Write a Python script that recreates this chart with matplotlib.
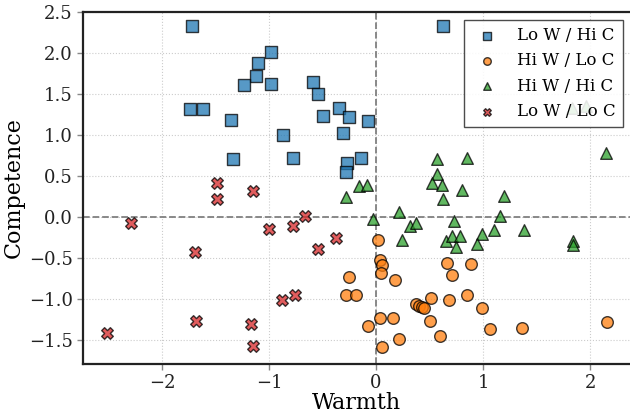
import matplotlib
matplotlib.use("Agg")
import matplotlib.pyplot as plt

plt.rcParams['font.family'] = ['DejaVu Serif']

# Lo W / Hi C (blue squares)
lw_hc_x = [-1.716, -0.978, -1.10, -1.12, -1.234, -0.984, -0.586, -0.539, -1.738, -1.614,
           -1.355, -0.492, -0.349, -0.249, -0.072, -0.305, -0.866, -1.333, -0.773, -0.268,
           -0.137, -0.283, 0.629]
lw_hc_y = [2.33, 2.02, 1.88, 1.72, 1.61, 1.63, 1.65, 1.51, 1.32, 1.32,
           1.19, 1.24, 1.34, 1.22, 1.18, 1.03, 1.00, 0.71, 0.73, 0.67,
           0.72, 0.56, 2.33]

# Hi W / Lo C (orange circles)
hw_lc_x = [-0.249, -0.283, -0.190, -0.075, 0.019, 0.037, 0.056, 0.047, 0.178, 0.66,
           0.89, 0.71, 0.854, 0.511, 0.679, 0.371, 0.402, 0.427, 0.445, 0.994,
           0.040, 0.162, 0.505, 1.062, 1.361, 2.162, 0.218, 0.595, 0.059]
hw_lc_y = [-0.72, -0.94, -0.95, -1.32, -0.28, -0.52, -0.58, -0.68, -0.76, -0.55,
           -0.57, -0.70, -0.94, -0.98, -1.01, -1.06, -1.08, -1.09, -1.10, -1.11,
           -1.22, -1.23, -1.26, -1.36, -1.35, -1.28, -1.48, -1.45, -1.58]

# Hi W / Hi C (green triangles)
hw_hc_x = [-0.283, -0.156, -0.081, -0.031, 0.573, 0.854, 2.15, 0.567, 0.523, 0.617,
           0.804, 1.199, 0.623, 1.83, 1.96, 0.218, 0.318, 0.374, 0.732, 1.156,
           0.24, 0.654, 0.713, 0.788, 0.745, 0.988, 0.944, 1.103, 1.38, 1.844, 1.844]
hw_hc_y = [0.25, 0.38, 0.39, -0.016, 0.71, 0.72, 0.79, 0.53, 0.42, 0.39,
           0.33, 0.26, 0.22, 1.34, 1.36, 0.065, -0.10, -0.07, -0.045, 0.024,
           -0.28, -0.29, -0.22, -0.22, -0.36, -0.20, -0.32, -0.15, -0.15, -0.29, -0.33]

# Lo W / Lo C (red X)
lw_lc_x = [-1.489, -1.153, -1.489, -2.293, -1.692, -0.997, -0.779, -0.664, -0.374, -0.539,
           -0.875, -0.754, -1.685, -1.165, -1.147, -2.514]
lw_lc_y = [0.42, 0.32, 0.22, -0.065, -0.42, -0.14, -0.11, 0.016, -0.25, -0.39,
           -1.01, -0.94, -1.26, -1.30, -1.57, -1.41]

labels = ["Lo W / Hi C", "Hi W / Lo C", "Hi W / Hi C", "Lo W / Lo C"]

W, H = 630, 416
fig = plt.figure(figsize=(W / 100, H / 100), dpi=100)
ax = fig.add_axes([82.5 / W, (H - 364) / H, 548.5 / W, 352 / H])

ax.axhline(0, color='#808080', linestyle='--', linewidth=1.3, zorder=1)
ax.axvline(0, color='#808080', linestyle='--', linewidth=1.3, zorder=1)

kw = dict(s=70, alpha=0.75, edgecolors='black', linewidths=1.0, zorder=3)
ax.scatter(lw_hc_x, lw_hc_y, marker='s', color='#1f77b4', label=labels[0], **kw)
ax.scatter(hw_lc_x, hw_lc_y, marker='o', color='#ff7f0e', label=labels[1], **kw)
ax.scatter(hw_hc_x, hw_hc_y, marker='^', color='#2ca02c', label=labels[2], **kw)
ax.scatter(lw_lc_x, lw_lc_y, marker='X', color='#d62728', label=labels[3], **kw)

ax.set_xlim(-2.743, 2.383)
ax.set_ylim(-1.787, 2.506)
ax.set_xticks([-2, -1, 0, 1, 2])
ax.set_yticks([-1.5, -1.0, -0.5, 0.0, 0.5, 1.0, 1.5, 2.0, 2.5])

ax.grid(True, color='#cccccc', linestyle=':', linewidth=0.8, zorder=0)
ax.set_axisbelow(True)

for side in ['left', 'bottom', 'top']:
    ax.spines[side].set_linewidth(1.6)
    ax.spines[side].set_color('#222222')
ax.spines['right'].set_visible(False)

ax.tick_params(axis='both', labelsize=13, length=4, width=1, color='#888888',
               labelcolor='#222222', direction='out', pad=3)

ax.set_xlabel("Warmth", fontsize=16, labelpad=0)
ax.set_ylabel("Competence", fontsize=16, labelpad=3)

leg = ax.legend(loc='upper right', fontsize=12, frameon=True, fancybox=False,
                framealpha=0.88, edgecolor='#333333', borderaxespad=0.5,
                markerscale=0.65)
leg.get_frame().set_linewidth(1.0)
leg.set_zorder(5)

fig.savefig("out.png", dpi=100)
